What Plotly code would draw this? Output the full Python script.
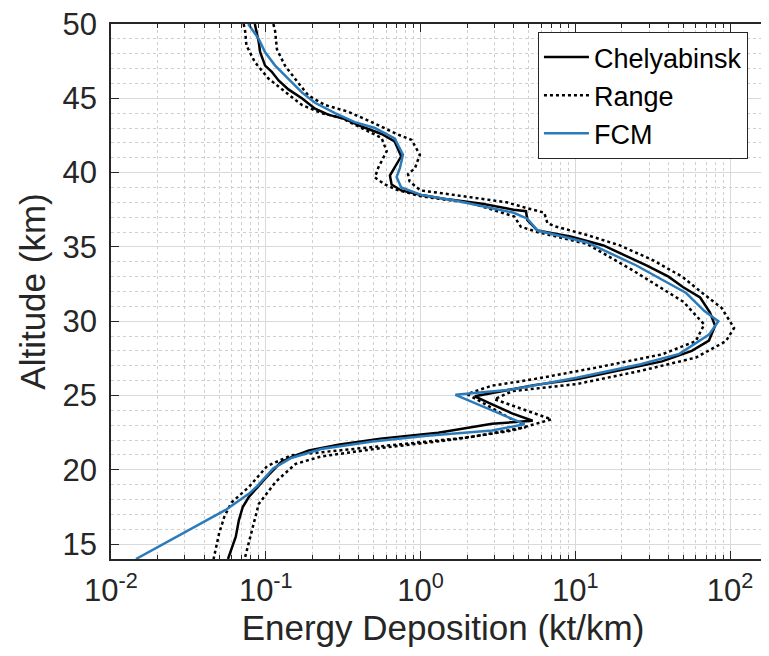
import plotly.graph_objects as go

# Chelyabinsk energy deposition curve (altitude km, kt/km)
chel_alt = [50.0, 48.8, 48.1, 47.2, 46.8, 46.2, 45.6, 45.0, 44.3, 43.9, 43.6, 43.1,
            42.6, 42.1, 41.1, 40.3, 39.8, 39.2, 38.8, 38.5, 38.2, 37.9, 37.5, 37.4,
            36.8, 36.1, 35.7, 35.1, 34.4, 33.75, 33.0, 32.3, 31.6, 30.6, 29.7, 28.7,
            28.0, 27.3, 26.7, 26.1, 25.7, 25.2, 24.95, 24.4, 23.8, 23.3, 23.1, 22.5,
            22.1, 21.7, 21.3, 20.9, 20.5, 19.4, 18.2, 17.5, 16.6, 15.5, 14.3, 14.0]
chel_val = [0.085, 0.090, 0.092, 0.099, 0.109, 0.121, 0.140, 0.171, 0.208, 0.253, 0.325, 0.416,
            0.56, 0.68, 0.75, 0.68, 0.634, 0.65, 0.75, 1.01, 1.5, 2.5, 4.0, 4.8,
            4.9, 5.7, 9.3, 15.2, 21.3, 28.8, 40.0, 49.5, 64.0, 74.0, 80.0, 73.0,
            56.5, 36.3, 19.3, 10.2, 5.4, 2.9, 2.24, 2.9, 3.9, 5.3, 2.9, 1.3,
            0.55, 0.30, 0.19, 0.15, 0.125, 0.099, 0.078, 0.071, 0.067, 0.064, 0.058, 0.057]

# Range: upper and lower bounds
hi_alt = [50.0, 49.5, 48.3, 47.2, 46.3, 45.2, 44.55, 44.1, 43.4, 42.55, 42.2, 41.2,
          40.3, 39.9, 39.4, 38.8, 38.6, 38.0, 37.6, 37.3, 36.6, 36.4, 35.8, 35.1,
          34.1, 33.0, 31.8, 30.9, 29.55, 28.66, 27.55, 26.66, 25.77, 25.3, 24.75, 23.4,
          22.65, 22.0, 21.5, 20.9, 20.4, 19.2, 17.7, 16.85, 15.5, 14.0]
hi_val = [0.112, 0.115, 0.118, 0.133, 0.155, 0.188, 0.241, 0.34, 0.483, 0.718, 0.875, 0.99,
          0.92, 0.83, 0.85, 1.0, 1.4, 3.6, 4.9, 6.3, 6.6, 7.3, 11.9, 19.4,
          31.8, 49.0, 68.0, 88.0, 106.0, 94.0, 60.0, 26.4, 10.2, 3.94, 3.0, 7.0,
          3.94, 1.53, 0.59, 0.228, 0.156, 0.116, 0.090, 0.086, 0.080, 0.073]

lo_alt = [50.0, 49.5, 48.55, 47.44, 46.33, 45.44, 44.55, 44.0, 43.67, 43.0, 42.33, 41.44,
          40.33, 39.67, 39.2, 38.85, 38.4, 37.95, 37.05, 36.36, 36.0, 35.2, 33.4, 31.3,
          29.78, 28.66, 27.77, 26.9, 26.1, 25.66, 25.1, 22.87, 22.2, 21.76, 21.3, 20.98,
          20.25, 18.86, 17.8, 16.85, 15.75, 14.3, 14.0]
lo_val = [0.072, 0.0736, 0.075, 0.085, 0.104, 0.133, 0.171, 0.23, 0.309, 0.416, 0.56, 0.604,
          0.533, 0.507, 0.589, 0.70, 1.01, 2.12, 4.03, 4.44, 5.68, 11.9, 23.7, 50.0,
          68.0, 60.0, 36.3, 14.0, 5.4, 2.88, 2.0, 4.78, 2.1, 0.81, 0.31, 0.146,
          0.102, 0.078, 0.060, 0.054, 0.050, 0.047, 0.046]

# FCM model curve
fcm_alt = [50.0, 49.0, 48.1, 47.2, 46.3, 45.4, 44.7, 44.0, 43.4, 43.0, 42.3, 41.2,
           40.3, 39.7, 39.0, 38.5, 38.1, 37.3, 36.9, 36.1, 35.3, 33.75, 31.9, 30.7,
           30.0, 29.1, 27.8, 27.1, 26.2, 25.4, 25.05, 23.07, 22.65, 22.3, 21.9, 21.4,
           20.8, 20.1, 18.9, 18.4, 17.3, 15.6, 14.0]
fcm_val = [0.077, 0.090, 0.099, 0.115, 0.140, 0.171, 0.208, 0.28, 0.376, 0.507, 0.68, 0.77,
           0.735, 0.70, 0.75, 1.01, 1.7, 4.0, 4.9, 5.7, 11.9, 24.8, 52.0, 68.0,
           84.0, 73.0, 47.0, 26.4, 10.2, 3.9, 1.68, 4.7, 2.9, 1.1, 0.49, 0.228,
           0.146, 0.112, 0.088, 0.078, 0.055, 0.028, 0.0145]

x_ticks = [0.01, 0.1, 1, 10, 100]
x_ticktext = ["10<sup>-2</sup>", "10<sup>-1</sup>", "10<sup>0</sup>", "10<sup>1</sup>", "10<sup>2</sup>"]
x_minor = [m * d for d in [0.01, 0.1, 1, 10, 100] for m in range(2, 10)]
y_ticks = [15, 20, 25, 30, 35, 40, 45, 50]

FONT = "Liberation Sans, Arial, sans-serif"
AXIS_COLOR = "#262626"
BLUE = "#2B7BBA"

fig = go.Figure()

fig.add_trace(go.Scatter(
    x=chel_val, y=chel_alt, mode="lines", name="Chelyabinsk",
    line=dict(color="black", width=2.5),
))
fig.add_trace(go.Scatter(
    x=hi_val, y=hi_alt, mode="lines", name="Range",
    line=dict(color="black", width=2.5, dash="dot"),
))
fig.add_trace(go.Scatter(
    x=lo_val, y=lo_alt, mode="lines", name="Range", showlegend=False,
    line=dict(color="black", width=2.5, dash="dot"),
))
fig.add_trace(go.Scatter(
    x=fcm_val, y=fcm_alt, mode="lines", name="FCM",
    line=dict(color=BLUE, width=2.5),
))

fig.update_layout(
    width=769, height=656,
    paper_bgcolor="white", plot_bgcolor="white",
    font=dict(family=FONT, color=AXIS_COLOR, size=31),
    margin=dict(l=103, r=2, t=16, b=105),
    xaxis=dict(
        type="log", range=[-2, 2.29], automargin=False,
        tickvals=x_ticks, ticktext=x_ticktext,
        tickfont=dict(size=31, color=AXIS_COLOR),
        ticks="inside", ticklen=8, tickcolor=AXIS_COLOR, ticklabelstandoff=3,
        ticklabeloverflow="allow",
        showline=True, linecolor=AXIS_COLOR, linewidth=1.5, mirror="allticks",
        showgrid=True, gridcolor="#d9d9d9", gridwidth=1,
        zeroline=False,
        minor=dict(tickvals=x_minor, ticks="inside", ticklen=4, tickcolor=AXIS_COLOR,
                   showgrid=True, gridcolor="#cfcfcf", griddash="dot", gridwidth=1),
        title=dict(text="Energy Deposition (kt/km)", font=dict(size=35, color=AXIS_COLOR),
                   standoff=6),
    ),
    yaxis=dict(
        range=[14, 50], tickvals=y_ticks, automargin=False,
        tickfont=dict(size=31, color=AXIS_COLOR),
        ticks="inside", ticklen=8, tickcolor=AXIS_COLOR, ticklabelstandoff=6,
        ticklabeloverflow="allow",
        showline=True, linecolor=AXIS_COLOR, linewidth=1.5, mirror="allticks",
        showgrid=True, gridcolor="#d9d9d9", gridwidth=1,
        zeroline=False,
        minor=dict(dtick=1, ticks="", showgrid=True, gridcolor="#cfcfcf",
                   griddash="dot", gridwidth=1),
        title=dict(text="Altitude (km)", font=dict(size=35, color=AXIS_COLOR), standoff=6),
    ),
    legend=dict(
        x=0.643, y=0.985, xanchor="left", yanchor="top",
        bgcolor="white", bordercolor=AXIS_COLOR, borderwidth=1,
        font=dict(size=27, color="black"),
        itemwidth=45, tracegroupgap=0,
    ),
)

fig.write_html("out.html")
